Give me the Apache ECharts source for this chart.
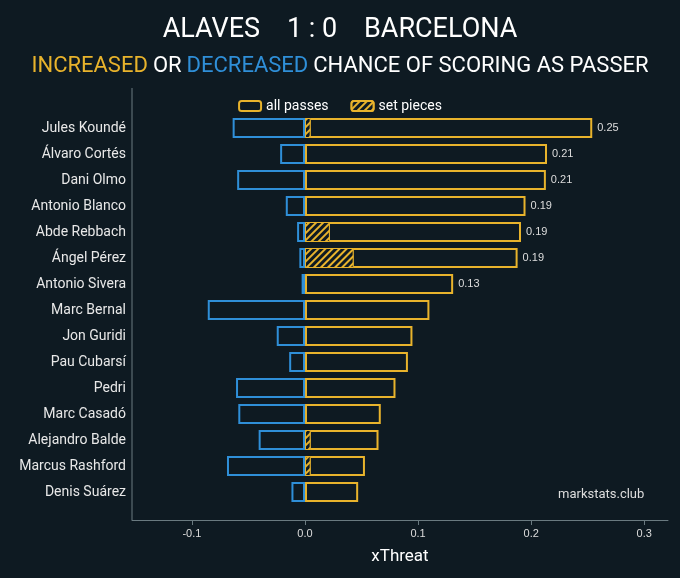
<!DOCTYPE html>
<html><head><meta charset="utf-8">
<script src="https://cdn.jsdelivr.net/npm/echarts@6/dist/echarts.min.js"></script>
<style>html,body{margin:0;background:#0e1a22}#c{width:680px;height:578px}</style>
</head><body><div id="c"></div>
<script>
const players = ["Jules Koundé","Álvaro Cortés","Dani Olmo","Antonio Blanco","Abde Rebbach","Ángel Pérez","Antonio Sivera","Marc Bernal","Jon Guridi","Pau Cubarsí","Pedri","Marc Casadó","Alejandro Balde","Marcus Rashford","Denis Suárez"];
const increased = [0.254,0.214,0.213,0.195,0.191,0.188,0.131,0.110,0.095,0.091,0.080,0.067,0.065,0.053,0.047];
const decreased = [-0.064,-0.022,-0.060,-0.017,-0.007,-0.005,-0.003,-0.086,-0.025,-0.014,-0.061,-0.059,-0.041,-0.069,-0.012];
const setPieces = [0.005,null,null,null,0.022,0.043,null,null,null,null,null,null,0.005,0.005,null];
const valueLabels = ["0.25","0.21","0.21","0.19","0.19","0.19","0.13","","","","","","","",""];
const xTicks = [-0.1,0,0.1,0.2,0.3];

const YEL = '#e8b32c', BLU = '#2f8fd8';
const chart = echarts.init(document.getElementById('c'));
chart.setOption({
  backgroundColor:'#0e1a22',
  animation:false,
  title:[
    {text:'ALAVES    1 : 0    BARCELONA',left:'center',top:12,textStyle:{color:'#fff',fontSize:27,fontWeight:'normal',fontFamily:'Roboto'}},
    {text:'{y|INCREASED} {w|OR} {b|DECREASED} {w|CHANCE OF SCORING AS PASSER}',left:'center',top:50,
     textStyle:{rich:{y:{color:YEL,fontSize:22,fontFamily:'Roboto',fontWeight:'normal'},b:{color:BLU,fontSize:22,fontFamily:'Roboto',fontWeight:'normal'},w:{color:'#fff',fontSize:22,fontFamily:'Roboto',fontWeight:'normal'}}}}
  ],
  legend:{top:94,left:'center',itemWidth:22,itemHeight:10,itemGap:22,textStyle:{color:'#fff',fontSize:14,fontFamily:'Roboto'},
    data:[{name:'all passes',itemStyle:{color:'transparent',borderColor:YEL,borderWidth:2}},{name:'set pieces'}]},
  grid:{left:132,right:12,top:115,height:390},
  xAxis:{type:'value',min:-0.153,max:0.321,offset:15,
    name:'xThreat',nameLocation:'middle',nameGap:28,nameTextStyle:{color:'#fff',fontSize:17,fontFamily:'Roboto'},
    axisLine:{show:true,lineStyle:{color:'#6a7a80'}},
    axisTick:{show:true,customValues:xTicks,lineStyle:{color:'#6a7a80'}},
    axisLabel:{customValues:xTicks,color:'#ddd',fontSize:11,formatter:v=>(Math.abs(v)<1e-9?'0.0':String(Math.round(v*10)/10))},
    splitLine:{show:false}},
  yAxis:{type:'category',data:players,inverse:true,axisLine:{show:false},axisTick:{show:false},
    axisLabel:{color:'#e8e8e8',fontSize:14,fontFamily:'Roboto',margin:6}},
  graphic:[
    {type:'line',shape:{x1:132,y1:88,x2:132,y2:520},style:{stroke:'#6a7a80',lineWidth:1}},
    {type:'text',left:558,top:488,style:{text:'markstats.club',fill:'#ddd',fontSize:13,fontFamily:'Roboto'}}
  ],
  series:[
    {name:'all passes',type:'bar',barWidth:20,barGap:'-100%',data:increased.map((v,i)=>({value:v,label:{show:!!valueLabels[i],formatter:valueLabels[i]}})),
     itemStyle:{color:'transparent',borderColor:YEL,borderWidth:2},
     label:{position:'right',color:'#ddd',fontSize:11,distance:5}},
    {name:'decreased',type:'bar',barWidth:20,barGap:'-100%',data:decreased,
     itemStyle:{color:'transparent',borderColor:BLU,borderWidth:2}},
    {name:'set pieces',type:'bar',barWidth:20,barGap:'-100%',data:setPieces,
     itemStyle:{color:'#0e1a22',borderColor:YEL,borderWidth:1,
       decal:{symbol:'rect',symbolSize:1,dashArrayX:[1,0],dashArrayY:[1.5,3],rotation:-Math.PI/4,color:YEL,backgroundColor:'#0e1a22'}}}
  ]
});
</script></body></html>
